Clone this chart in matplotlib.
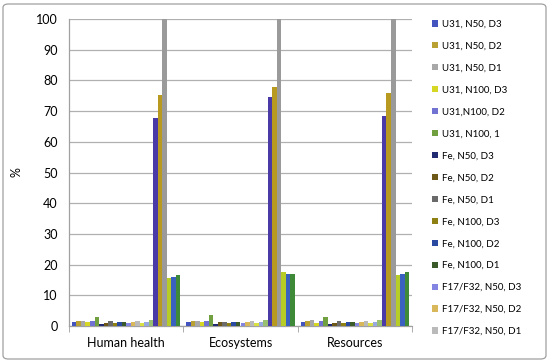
import numpy as np
import matplotlib
matplotlib.use('Agg')
import matplotlib.pyplot as plt
from matplotlib.patches import FancyBboxPatch

plt.rcParams['font.family'] = ['Lato', 'DejaVu Sans']

categories = ['Human health', 'Ecosystems', 'Resources']

series_names = [
    'U31, N50, D3', 'U31, N50, D2', 'U31, N50, D1',
    'U31, N100, D3', 'U31,N100, D2', 'U31, N100, 1',
    'Fe, N50, D3', 'Fe, N50, D2', 'Fe, N50, D1',
    'Fe, N100, D3', 'Fe, N100, D2', 'Fe, N100, D1',
    'F17/F32, N50, D3', 'F17/F32, N50, D2', 'F17/F32, N50, D1',
    'F17/F32, N100, D3', 'F17/F32, N100, D2', 'F17/F32, N100, D1',
    'Ref, N50, D3', 'Ref, N50, D2', 'Ref, N50, D1',
    'Ref, N100, D3', 'Ref, N100, D2', 'Ref, N100, D1',
]

series_colors = [
    '#4354bf', '#b8a032', '#a8a8a8', '#d6d624', '#7272d2', '#70a040',
    '#222a72', '#6e5818', '#6a6a6a', '#8e8012', '#2a4aa2', '#3a5a2a',
    '#8484e2', '#d8b85a', '#bababa', '#d8e044', '#98a8e0', '#98c070',
    '#4a3aa8', '#b89a20', '#9a9a9a', '#b8cc28', '#3a60c0', '#3e8a38',
]

# values per series: [Human health, Ecosystems, Resources]
values = [
    [1.3, 1.4, 1.3], [1.7, 1.6, 1.7], [1.7, 1.7, 1.8],
    [1.2, 1.2, 1.1], [1.5, 1.5, 1.5], [2.8, 3.5, 2.8],
    [0.8, 0.8, 0.8], [1.1, 1.2, 1.1], [1.5, 1.4, 1.6],
    [0.9, 0.9, 0.9], [1.2, 1.2, 1.2], [1.2, 1.2, 1.2],
    [1.0, 1.0, 1.0], [1.2, 1.3, 1.3], [1.5, 1.7, 1.7],
    [1.1, 1.1, 1.1], [1.4, 1.3, 1.3], [1.8, 1.8, 1.9],
    [67.6, 74.5, 68.5], [75.3, 78.0, 75.8], [100, 100, 100],
    [15.6, 17.5, 16.7], [15.8, 16.8, 16.8], [16.5, 17.0, 17.6],
]
legend_shown = 15

fig = plt.figure(figsize=(5.5, 3.62), dpi=100)
fig.patch.set_facecolor('white')
ax = fig.add_axes([69/550, 1 - 326/362, (412 - 69)/550, (326 - 19)/362])

n = len(series_names)
w = 1.0 / (n + 1.3)
x = np.arange(len(categories))
handles = []
for i, (name, col, vals) in enumerate(zip(series_names, series_colors, values)):
    b = ax.bar(x + (i - (n - 1) / 2) * w, vals, width=w, color=col,
               label=name, linewidth=0, zorder=3)
    handles.append(b)

ax.set_xlim(-0.5, 2.5)
ax.set_ylim(0, 100)
ax.set_yticks(np.arange(0, 101, 10))
ax.set_xticks(x)
ax.set_xticklabels(categories, fontsize=9)
ax.set_xticks([-0.5, 0.5, 1.5, 2.5], minor=True)
ax.tick_params(axis='x', which='major', length=0, pad=8)
ax.tick_params(axis='x', which='minor', length=4, color='#a0a0a0')
ax.tick_params(axis='y', length=0, labelsize=9, pad=8)
ax.yaxis.grid(True, color='#b0b0b0', linewidth=0.9, zorder=0)
ax.set_axisbelow(True)
for s in ['top', 'right']:
    ax.spines[s].set_visible(False)
for s in ['left', 'bottom']:
    ax.spines[s].set_color('#a0a0a0')
    ax.spines[s].set_linewidth(0.9)
ax.set_ylabel('%', fontsize=9, labelpad=10)

fig.legend(handles=handles[:legend_shown], labels=series_names[:legend_shown],
           loc='upper left', bbox_to_anchor=(428/550, 1 - 16/362),
           frameon=False, fontsize=7, handlelength=0.6, handleheight=0.6,
           handletextpad=0.4, labelspacing=1.33, borderaxespad=0)

border = FancyBboxPatch((3/550, 3/362), 543/550, 355/362,
                        boxstyle='round,pad=0,rounding_size=0.01',
                        transform=fig.transFigure, fill=False,
                        edgecolor='#a0a0a0', linewidth=0.9)
fig.add_artist(border)

fig.savefig('out.png', dpi=100)
